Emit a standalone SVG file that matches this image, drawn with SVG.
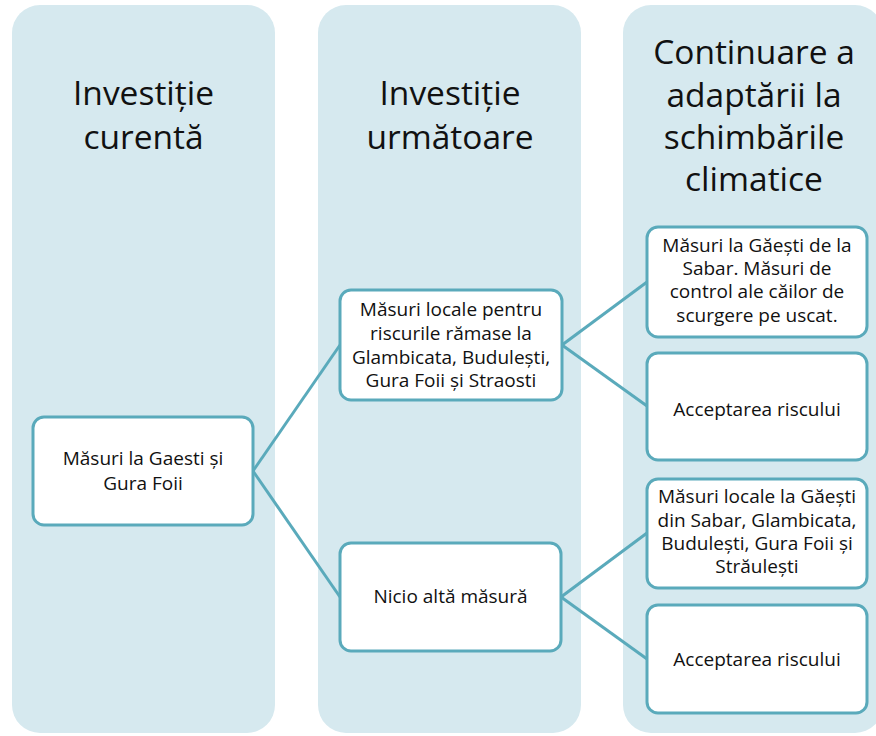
<svg xmlns="http://www.w3.org/2000/svg" width="876" height="736" viewBox="0 0 876 736">
<style>
.col{fill:#d6e9ef}
.node{fill:#ffffff;stroke:#5aaabb;stroke-width:3}
.hdr{font-family:"Open Sans","Noto Sans",sans-serif;font-size:33.5px;fill:#111111;text-anchor:middle}
.t{font-family:"Open Sans","Noto Sans",sans-serif;font-size:19px;fill:#111111;text-anchor:middle}
.conn{fill:none;stroke:#5aaabb;stroke-width:3}
</style>
<rect width="876" height="736" fill="#ffffff"/>
<g id="columns">
<rect class="col" x="12" y="5" width="263" height="728" rx="28"/>
<rect class="col" x="318" y="5" width="263" height="728" rx="28"/>
<rect class="col" x="623" y="5" width="260" height="728" rx="28"/>
<text class="hdr" x="143.5" y="105">Investiție</text>
<text class="hdr" x="143.5" y="149">curentă</text>
<text class="hdr" x="450" y="105">Investiție</text>
<text class="hdr" x="450" y="149">următoare</text>
<text class="hdr" x="754" y="64">Continuare a</text>
<text class="hdr" x="754" y="107">adaptării la</text>
<text class="hdr" x="754" y="149">schimbările</text>
<text class="hdr" x="754" y="191">climatice</text>
</g>
<g id="connectors">
<path class="conn" d="M253 471 L340 345"/>
<path class="conn" d="M253 471 L340 597"/>
<path class="conn" d="M562 345 L647 282"/>
<path class="conn" d="M562 345 L647 406"/>
<path class="conn" d="M561 597 L647 533"/>
<path class="conn" d="M561 597 L647 659"/>
</g>
<g id="n1">
<rect class="node" x="33" y="417" width="220" height="108" rx="11"/>
<text class="t" x="143" y="465">Măsuri la Gaesti și</text>
<text class="t" x="143" y="490">Gura Foii</text>
</g>
<g id="n2">
<rect class="node" x="340" y="290" width="222" height="110" rx="11"/>
<text class="t" x="451" y="316">Măsuri locale pentru</text>
<text class="t" x="451" y="340">riscurile rămase la</text>
<text class="t" x="451" y="364">Glambicata, Budulești,</text>
<text class="t" x="451" y="387">Gura Foii și Straosti</text>
</g>
<g id="n3">
<rect class="node" x="340" y="543" width="221" height="108" rx="11"/>
<text class="t" x="450.5" y="603">Nicio altă măsură</text>
</g>
<g id="n4">
<rect class="node" x="647" y="227" width="220" height="110" rx="11"/>
<text class="t" x="757" y="252">Măsuri la Găești de la</text>
<text class="t" x="757" y="275">Sabar. Măsuri de</text>
<text class="t" x="757" y="298">control ale căilor de</text>
<text class="t" x="757" y="322">scurgere pe uscat.</text>
</g>
<g id="n5">
<rect class="node" x="647" y="353" width="220" height="107" rx="11"/>
<text class="t" x="757" y="416">Acceptarea riscului</text>
</g>
<g id="n6">
<rect class="node" x="647" y="479" width="220" height="109" rx="11"/>
<text class="t" x="757" y="503">Măsuri locale la Găești</text>
<text class="t" x="757" y="527">din Sabar, Glambicata,</text>
<text class="t" x="757" y="550">Budulești, Gura Foii și</text>
<text class="t" x="757" y="573">Străulești</text>
</g>
<g id="n7">
<rect class="node" x="647" y="605" width="220" height="108" rx="11"/>
<text class="t" x="757" y="666">Acceptarea riscului</text>
</g>
</svg>
